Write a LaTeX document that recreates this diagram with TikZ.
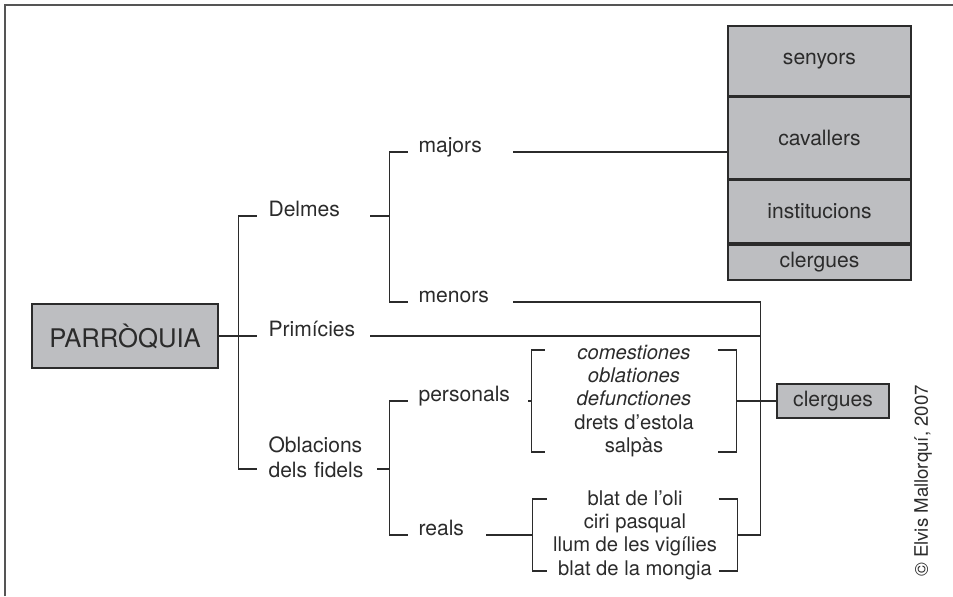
\documentclass[tikz,border=0pt]{standalone}
\usepackage{fontspec}
\setmainfont{TeX Gyre Heros}
\usetikzlibrary{positioning}
\definecolor{boxgray}{HTML}{BDBEC1}
\definecolor{ink}{HTML}{2B2B2B}
\tikzset{
	grbox/.style={draw=ink, fill=boxgray, line width=0.9pt, inner sep=0pt},
	stackbox/.style={grbox, minimum width=3.66cm},
	term/.style={inner xsep=0.2cm, inner ysep=0pt, align=left, anchor=base west},
	lvlone/.style={term, inner xsep=0.22cm, text width=1.8cm},
	lvltwo/.style={term, text width=1.68cm},
	itemlist/.style={align=center, minimum width=4.08cm, inner sep=0pt, font=\fontsize{11.5}{13.3}\selectfont},
}

\begin{document}
\begin{tikzpicture}[x=0.02cm, y=-0.02cm, font=\fontsize{12}{14}\selectfont, color=ink, line width=0.6pt]
\useasboundingbox (0,0) rectangle (953,596);
\draw[line width=0.9pt, ink!80] (5,596) |- (953,5);

\node[grbox, minimum width=3.72cm, minimum height=1.28cm, font=\fontsize{14.6}{17}\selectfont] (parr) at (125,336) {PARRÒQUIA};
\node[lvlone] (delm) at (257,216) {Delmes};
\node[lvlone] (prim) at (257,336) {Primícies};
\node[lvlone, text width=1.94cm, anchor=south west] (obl) at (257,478) {Oblacions\\dels fidels};

\node[lvltwo] (majo) at (408,152) {majors};
\node[lvltwo] (meno) at (408,302) {menors};
\node[lvltwo, text width=1.98cm] (pers) at (408,401) {personals};
\node[lvltwo, text width=1.14cm] (real) at (408,535) {reals};

\node[itemlist] (plist) at (634,401) {\textit{comestiones}\\\textit{oblationes}\\\textit{defunctiones}\\drets d’estola\\salpàs};
\node[itemlist] (rlist) at (635,535) {blat de l’oli\\ciri pasqual\\llum de les vigílies\\blat de la mongia};

\node[stackbox, minimum height=1.4cm] (seny) at (819.5,61) {senyors};
\node[stackbox, minimum height=1.62cm, below=0pt of seny] (cav) {cavallers};
\node[stackbox, minimum height=1.26cm, below=0pt of cav] (inst) {institucions};
\node[stackbox, minimum height=0.7cm, below=0pt of inst] (cler1) {clergues};
\node[grbox, minimum width=2.24cm, minimum height=0.68cm] (cler2) at (833,401) {clergues};
\node[rotate=90, font=\fontsize{10.6}{12}\selectfont] (copy) at (923,481) {© Elvis Mallorquí, 2007};

\draw (parr.east) -- ++(20,0) coordinate (j0) -- (prim.base west)
	(j0) |- (delm.base west)
	(j0) |- ([yshift=0.18cm]obl.south west);
\draw (delm.base east) -- ++(19,0) coordinate (j1)
	(j1) |- (majo.base west)
	(j1) |- (meno.base west);
\draw ([yshift=0.18cm]obl.south east) -- ++(12,0) coordinate (j2)
	(j2) |- (pers.base west)
	(j2) |- (real.base west);

\draw (majo.base east) -- (majo.base east -| cav.west);
\draw (meno.base east) -- ++(247,0) coordinate (j3) |- (rlist.east);
\draw (prim.base east) -- (prim.base east -| j3);
\draw (pers.base east) -- (pers.base east -| plist.west);
\draw (real.base east) -- (real.base east -| rlist.west);
\draw (plist.east) -- (cler2.west);

\draw (plist.west) ++(13,-51) -- ++(-13,0) -- ++(0,102) -- ++(13,0)
	(plist.east) ++(-19,-51) -- ++(19,0) -- ++(0,102) -- ++(-19,0);
\draw (rlist.west) ++(14,-36) -- ++(-14,0) -- ++(0,72) -- ++(14,0)
	(rlist.east) ++(-19,-36) -- ++(19,0) -- ++(0,72) -- ++(-19,0);
\end{tikzpicture}
\end{document}
